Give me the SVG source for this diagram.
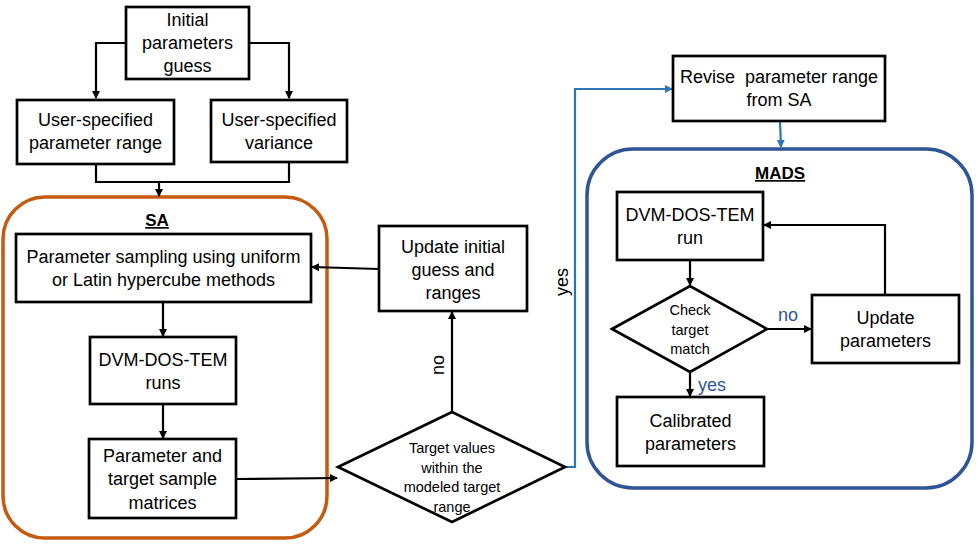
<svg xmlns="http://www.w3.org/2000/svg" width="977" height="545" viewBox="0 0 977 545">
<style>
.box{fill:#fff;stroke:#000;stroke-width:2.7}
.t{font-family:"Liberation Sans",Arial,sans-serif;font-size:18px;fill:#000;text-anchor:middle}
.s{font-family:"Liberation Sans",Arial,sans-serif;font-size:14.5px;fill:#000;text-anchor:middle}
.h{font-family:"Liberation Sans",Arial,sans-serif;font-size:17px;font-weight:bold;fill:#000;text-anchor:middle;text-decoration:underline}
.c{fill:none;stroke:#000;stroke-width:2.2}
.cb{fill:none;stroke:#2E75B6;stroke-width:2.2}
.lbl{font-family:"Liberation Sans",Arial,sans-serif;font-size:18px;fill:#2F5597;text-anchor:middle}
</style>
<defs>
<marker id="ah" markerWidth="8" markerHeight="8" refX="7" refY="4" orient="auto" markerUnits="userSpaceOnUse"><path d="M0,0 L8,4 L0,8 z" fill="#000"/></marker>
<marker id="ahb" markerWidth="8" markerHeight="8" refX="7" refY="4" orient="auto" markerUnits="userSpaceOnUse"><path d="M0,0 L8,4 L0,8 z" fill="#2E75B6"/></marker>
</defs>
<rect width="977" height="545" fill="#fff"/>
<!-- containers -->
<g id="SA">
<rect x="3" y="197" width="324" height="341" rx="42" fill="none" stroke="#C55A11" stroke-width="3.5"/>
<text class="h" x="157" y="226">SA</text>
</g>
<g id="MADS">
<rect x="587" y="149" width="385" height="339" rx="46" fill="none" stroke="#2F5597" stroke-width="3.5"/>
<text class="h" x="780" y="179">MADS</text>
</g>
<!-- connectors -->
<g id="connectors">
<polyline class="c" points="126,43 96,43 96,98" marker-end="url(#ah)"/>
<polyline class="c" points="249,43 289,43 289,98" marker-end="url(#ah)"/>
<polyline class="c" points="96,164 96,182 289,182 289,162"/>
<line class="c" x1="159" y1="182" x2="159" y2="196" marker-end="url(#ah)"/>
<line class="c" x1="379" y1="269" x2="312" y2="267" marker-end="url(#ah)"/>
<line class="c" x1="163" y1="302" x2="163" y2="336" marker-end="url(#ah)"/>
<line class="c" x1="163" y1="404" x2="163" y2="438" marker-end="url(#ah)"/>
<line class="c" x1="236" y1="479" x2="337" y2="478" marker-end="url(#ah)"/>
<line class="c" x1="452" y1="412" x2="452" y2="312" marker-end="url(#ah)"/>
<text class="t" transform="translate(444,365) rotate(-90)">no</text>
<polyline class="cb" points="565,467 575,467 575,89 672,89" marker-end="url(#ahb)"/>
<text class="t" transform="translate(568,282) rotate(-90)">yes</text>
<polyline class="cb" points="780,121 781,147" marker-end="url(#ahb)"/>
<line class="c" x1="690" y1="260" x2="690" y2="285" marker-end="url(#ah)"/>
<line class="c" x1="767" y1="329" x2="811" y2="329" marker-end="url(#ah)"/>
<text class="lbl" x="788" y="321">no</text>
<polyline class="c" points="885,295 885,225 764,225" marker-end="url(#ah)"/>
<line class="c" x1="690" y1="372" x2="690" y2="396" marker-end="url(#ah)"/>
<text class="lbl" x="712" y="391">yes</text>
</g>
<!-- nodes -->
<g id="initial">
<rect class="box" x="126" y="7" width="123" height="72"/>
<text class="t" x="187.5" y="26">Initial</text>
<text class="t" x="187.5" y="49">parameters</text>
<text class="t" x="187.5" y="72">guess</text>
</g>
<g id="userRange">
<rect class="box" x="17" y="100" width="157" height="64"/>
<text class="t" x="95.5" y="126">User-specified</text>
<text class="t" x="95.5" y="149">parameter range</text>
</g>
<g id="userVariance">
<rect class="box" x="211" y="100" width="136" height="62"/>
<text class="t" x="279" y="126">User-specified</text>
<text class="t" x="279" y="149">variance</text>
</g>
<g id="sampling">
<rect class="box" x="16" y="234" width="295" height="68"/>
<text class="t" x="163.5" y="263">Parameter sampling using uniform</text>
<text class="t" x="163.5" y="286">or Latin hypercube methods</text>
</g>
<g id="dvmRuns">
<rect class="box" x="90" y="337" width="146" height="67"/>
<text class="t" x="163" y="366">DVM-DOS-TEM</text>
<text class="t" x="163" y="389">runs</text>
</g>
<g id="matrices">
<rect class="box" x="89" y="439" width="147" height="79"/>
<text class="t" x="162.5" y="462">Parameter and</text>
<text class="t" x="162.5" y="485">target sample</text>
<text class="t" x="162.5" y="509">matrices</text>
</g>
<g id="updateInitial">
<rect class="box" x="379" y="226" width="148" height="85"/>
<text class="t" x="453" y="253">Update initial</text>
<text class="t" x="453" y="276">guess and</text>
<text class="t" x="453" y="299">ranges</text>
</g>
<g id="targetDecision">
<polygon class="box" points="338,467 452,412 565,467 452,522"/>
<text class="s" x="452" y="453">Target values</text>
<text class="s" x="452" y="473">within the</text>
<text class="s" x="452" y="492">modeled target</text>
<text class="s" x="452" y="512">range</text>
</g>
<g id="revise">
<rect class="box" x="673" y="56" width="212" height="65"/>
<text class="t" x="779" y="83" xml:space="preserve">Revise  parameter range</text>
<text class="t" x="779" y="106">from SA</text>
</g>
<g id="dvmRun">
<rect class="box" x="617" y="192" width="146" height="68"/>
<text class="t" x="690" y="221">DVM-DOS-TEM</text>
<text class="t" x="690" y="244">run</text>
</g>
<g id="checkMatch">
<polygon class="box" points="612,329 690,286 767,329 690,372"/>
<text class="s" x="690" y="315">Check</text>
<text class="s" x="690" y="335">target</text>
<text class="s" x="690" y="354">match</text>
</g>
<g id="updateParams">
<rect class="box" x="812" y="295" width="147" height="68"/>
<text class="t" x="885.5" y="324">Update</text>
<text class="t" x="885.5" y="347">parameters</text>
</g>
<g id="calibrated">
<rect class="box" x="617" y="397" width="147" height="69"/>
<text class="t" x="690.5" y="427">Calibrated</text>
<text class="t" x="690.5" y="450">parameters</text>
</g>
</svg>
